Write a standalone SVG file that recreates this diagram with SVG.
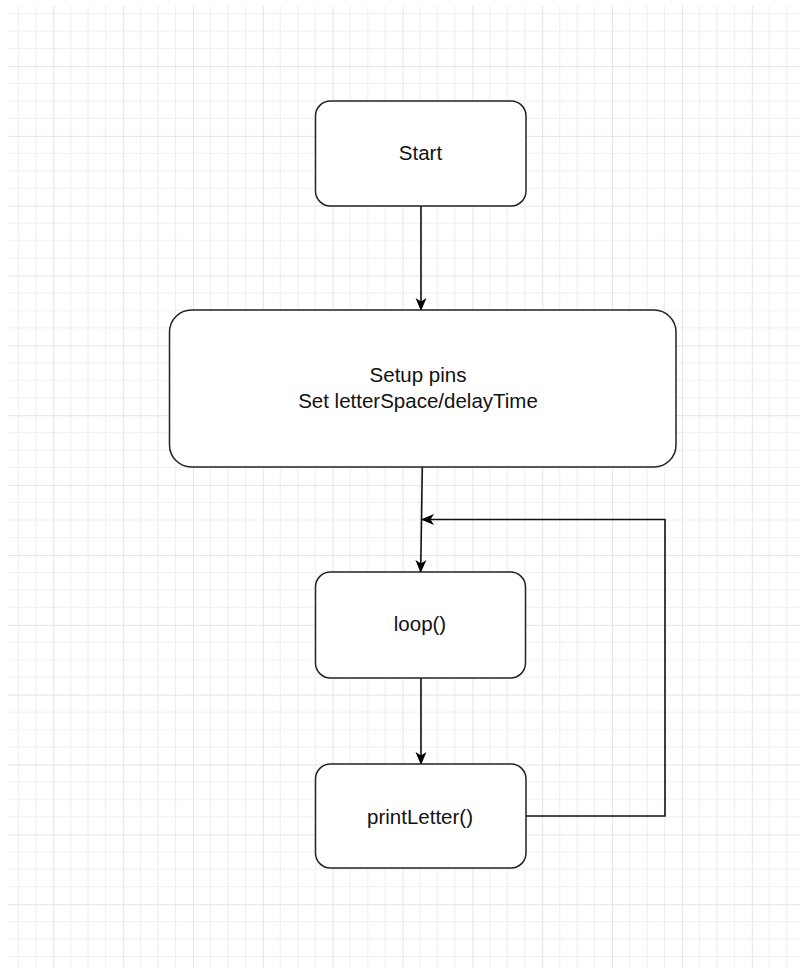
<svg xmlns="http://www.w3.org/2000/svg" width="800" height="968" viewBox="0 0 800 968">
  <defs>
    <pattern id="grid" patternUnits="userSpaceOnUse" x="53.3" y="66" width="69.85" height="69.85">
      <path d="M17.46 0V69.85M34.92 0V69.85M52.39 0V69.85M0 17.46H69.85M0 34.92H69.85M0 52.39H69.85" stroke="#efefef" stroke-width="1.2" fill="none"/>
      <path d="M0 0V69.85M0 0H69.85" stroke="#dddddd" stroke-width="1.5" fill="none"/>
    </pattern>
    <marker id="arr" viewBox="0 0 13 13" refX="12" refY="6.5" markerWidth="13" markerHeight="13" markerUnits="userSpaceOnUse" orient="auto">
      <path d="M0 1 L13 6.5 L0 12 L3.5 6.5 Z" fill="#000"/>
    </marker>
  </defs>
  <style>
    .box { fill: #ffffff; stroke: #222222; stroke-width: 1.5; }
    .lbl { font-family: "Liberation Sans", Arial, sans-serif; font-size: 20.5px; fill: #111111; text-anchor: middle; }
    .edge { fill: none; stroke: #111111; stroke-width: 1.6; marker-end: url(#arr); }
  </style>
  <rect width="800" height="968" fill="#ffffff"/>
  <rect x="8" y="6" width="792" height="962" fill="url(#grid)"/>

  <g id="connectors">
    <path class="edge" d="M421 206 V310"/>
    <path class="edge" d="M422.3 467 L420.7 572"/>
    <path class="edge" d="M421 678 V764"/>
    <path class="edge" d="M526 816 H665 V519.5 H422"/>
  </g>

  <g id="start">
    <rect class="box" x="315.5" y="101" width="210.5" height="105" rx="15" ry="15"/>
    <text class="lbl" x="420.5" y="160">Start</text>
  </g>

  <g id="setup">
    <rect class="box" x="169.5" y="310" width="506.5" height="157" rx="22" ry="22"/>
    <text class="lbl" x="418" y="382">Setup pins</text>
    <text class="lbl" x="418" y="408">Set letterSpace/delayTime</text>
  </g>

  <g id="loop">
    <rect class="box" x="315.5" y="572" width="210" height="106" rx="15" ry="15"/>
    <text class="lbl" x="420" y="631">loop()</text>
  </g>

  <g id="printLetter">
    <rect class="box" x="315.5" y="764" width="210.5" height="104" rx="15" ry="15"/>
    <text class="lbl" x="420" y="824">printLetter()</text>
  </g>
</svg>
